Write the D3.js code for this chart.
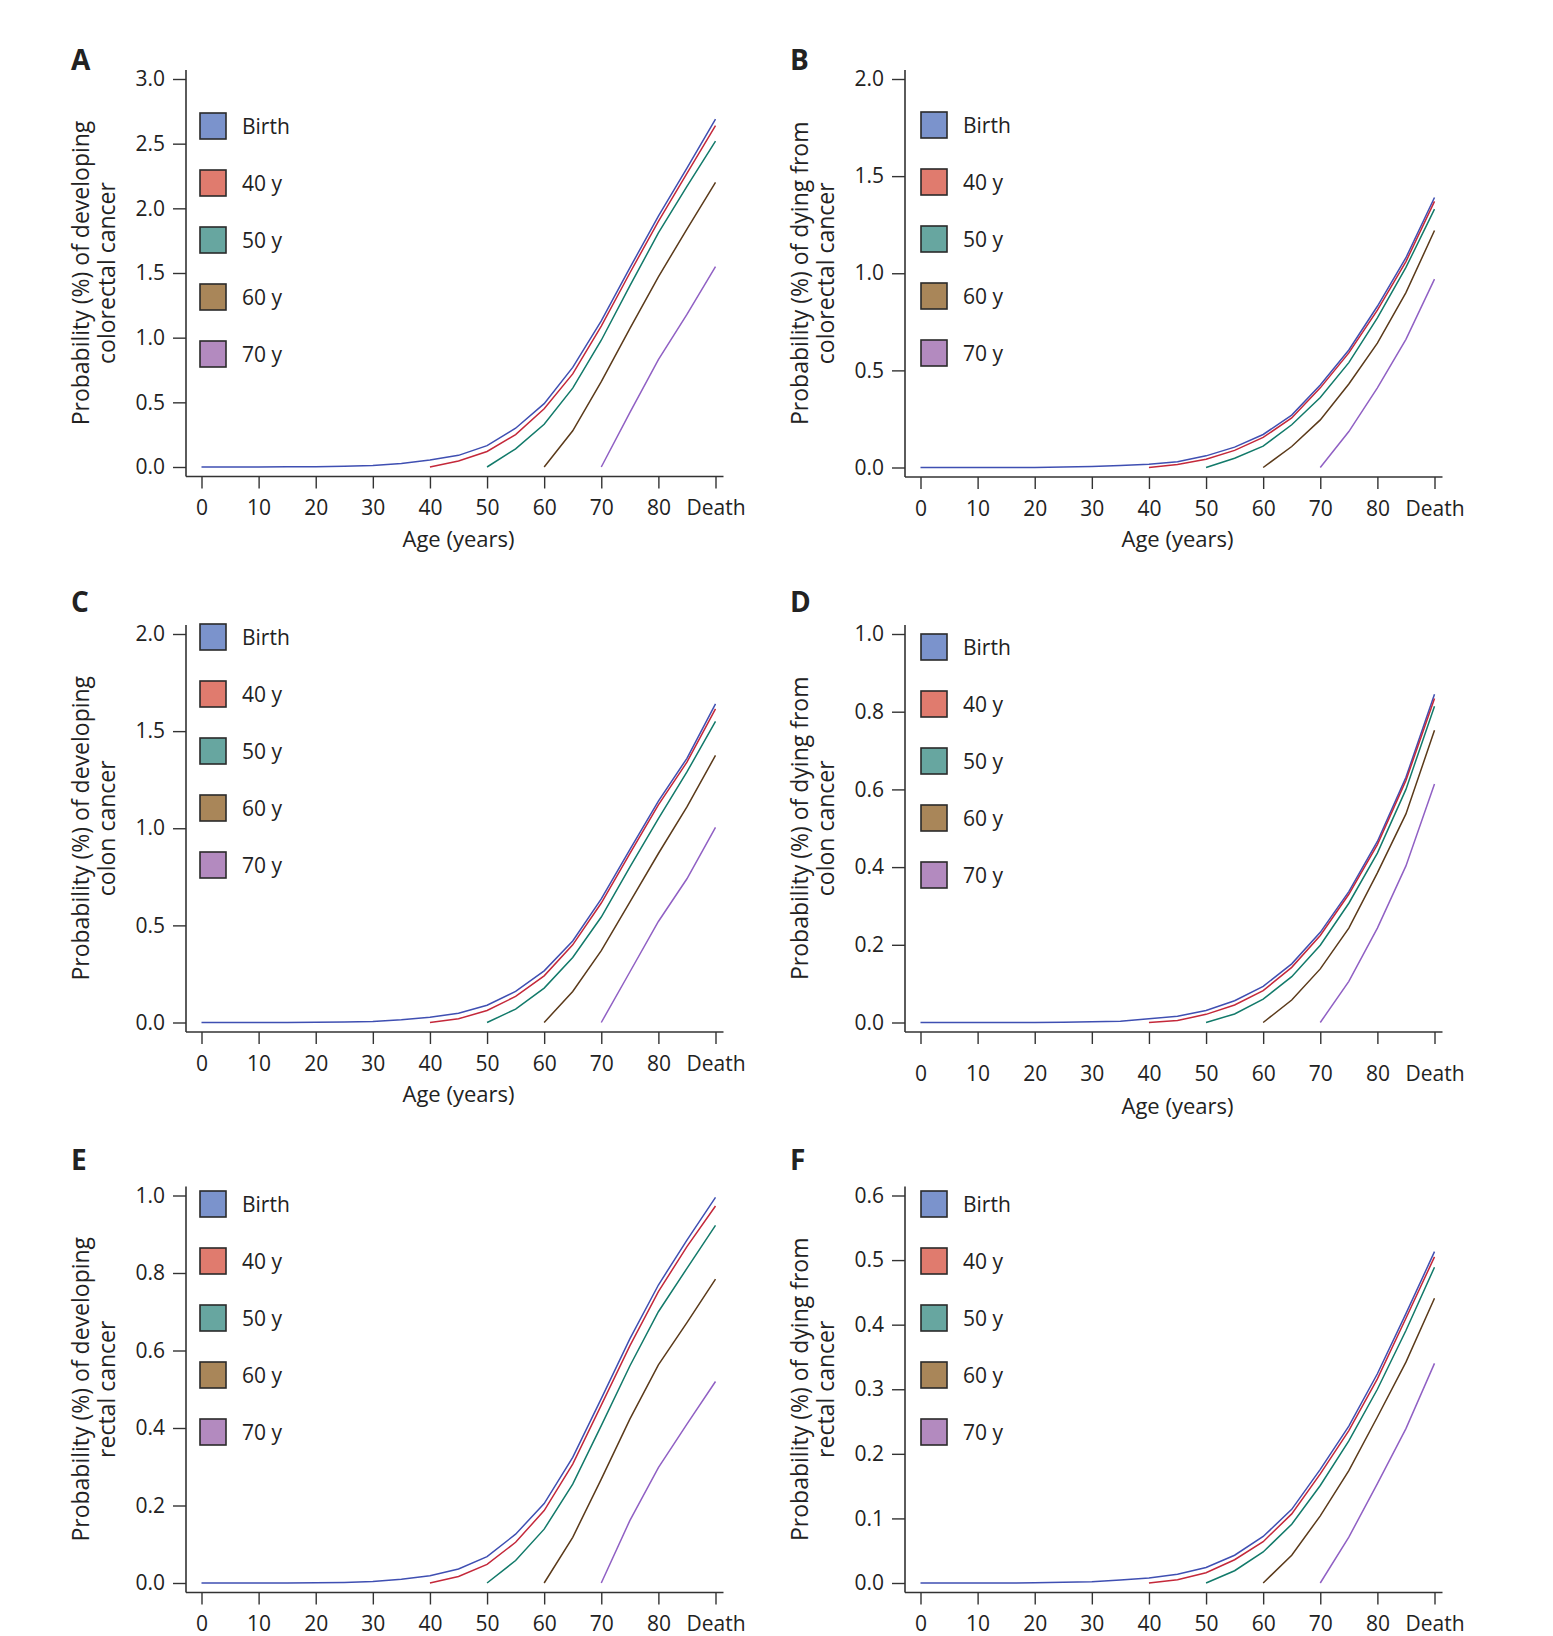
<!DOCTYPE html>
<html>
<head>
<meta charset="utf-8">
<script src="https://cdn.jsdelivr.net/npm/d3@7"></script>
<style>
  body { margin: 0; background: #fff; }
  svg { display: block; }
  text { font-family: "Open Sans", "Noto Sans", sans-serif; fill: #222; }
</style>
</head>
<body>
<div id="chart"></div>
<script>
// ages on the x axis, 90 = "Death"
const ages = [0, 5, 10, 15, 20, 25, 30, 35, 40, 45, 50, 55, 60, 65, 70, 75, 80, 85, 90];
const xTickValues = [0, 10, 20, 30, 40, 50, 60, 70, 80, 90];
const xTickLabels = ["0", "10", "20", "30", "40", "50", "60", "70", "80", "Death"];

const seriesNames = ["Birth", "40 y", "50 y", "60 y", "70 y"];
const startAges = [0, 40, 50, 60, 70];
const lineColors = ["#3f4fb2", "#c4283a", "#127a6a", "#5b3a1a", "#9060c4"];
const boxColors = ["#7b93cc", "#e07b6e", "#67a6a0", "#a98659", "#b38abf"];

// A: developing colorectal cancer
const aBirth = [0, 0, 0, 0.001, 0.002, 0.005, 0.012, 0.027, 0.054, 0.09, 0.165, 0.30, 0.49, 0.77, 1.13, 1.54, 1.94, 2.31, 2.69];
const a40 = [0, 0.046, 0.12, 0.25, 0.45, 0.72, 1.09, 1.50, 1.90, 2.27, 2.64];
const a50 = [0, 0.14, 0.33, 0.61, 0.98, 1.40, 1.81, 2.17, 2.52];
const a60 = [0, 0.28, 0.66, 1.07, 1.47, 1.84, 2.20];
const a70 = [0, 0.42, 0.83, 1.18, 1.55];

// B: dying from colorectal cancer
const bBirth = [0, 0, 0, 0, 0, 0.002, 0.005, 0.01, 0.017, 0.03, 0.06, 0.105, 0.17, 0.27, 0.425, 0.605, 0.83, 1.08, 1.39];
const b40 = [0, 0.015, 0.043, 0.088, 0.155, 0.255, 0.41, 0.59, 0.81, 1.06, 1.37];
const b50 = [0, 0.048, 0.11, 0.22, 0.36, 0.54, 0.77, 1.03, 1.33];
const b60 = [0, 0.108, 0.245, 0.43, 0.64, 0.90, 1.22];
const b70 = [0, 0.185, 0.41, 0.66, 0.97];

// C: developing colon cancer
const cBirth = [0, 0, 0, 0, 0.001, 0.002, 0.005, 0.014, 0.027, 0.048, 0.089, 0.16, 0.266, 0.42, 0.636, 0.89, 1.14, 1.36, 1.64];
const c40 = [0, 0.019, 0.062, 0.134, 0.24, 0.40, 0.615, 0.87, 1.12, 1.34, 1.615];
const c50 = [0, 0.069, 0.177, 0.335, 0.543, 0.80, 1.05, 1.29, 1.55];
const c60 = [0, 0.16, 0.37, 0.62, 0.87, 1.11, 1.375];
const c70 = [0, 0.26, 0.52, 0.74, 1.005];

// D: dying from colon cancer
const dBirth = [0, 0, 0, 0, 0, 0.0005, 0.0017, 0.0034, 0.0094, 0.016, 0.031, 0.056, 0.093, 0.151, 0.232, 0.337, 0.466, 0.631, 0.845];
const d40 = [0, 0.005, 0.021, 0.045, 0.082, 0.142, 0.224, 0.33, 0.458, 0.623, 0.834];
const d50 = [0, 0.022, 0.060, 0.118, 0.199, 0.307, 0.436, 0.60, 0.814];
const d60 = [0, 0.058, 0.138, 0.243, 0.385, 0.537, 0.752];
const d70 = [0, 0.106, 0.243, 0.403, 0.614];

// E: developing rectal cancer
const eBirth = [0, 0, 0, 0, 0.0005, 0.0015, 0.004, 0.0095, 0.019, 0.036, 0.068, 0.126, 0.205, 0.324, 0.476, 0.63, 0.769, 0.885, 0.995];
const e40 = [0, 0.017, 0.048, 0.105, 0.187, 0.307, 0.459, 0.612, 0.752, 0.868, 0.973];
const e50 = [0, 0.058, 0.139, 0.255, 0.406, 0.56, 0.70, 0.812, 0.923];
const e60 = [0, 0.118, 0.268, 0.423, 0.563, 0.672, 0.784];
const e70 = [0, 0.161, 0.298, 0.41, 0.52];

// F: dying from rectal cancer
const fBirth = [0, 0, 0, 0, 0.0003, 0.001, 0.002, 0.0046, 0.0077, 0.0134, 0.024, 0.043, 0.072, 0.114, 0.176, 0.243, 0.324, 0.417, 0.513];
const f40 = [0, 0.005, 0.016, 0.036, 0.064, 0.107, 0.169, 0.236, 0.316, 0.41, 0.505];
const f50 = [0, 0.019, 0.048, 0.091, 0.151, 0.22, 0.30, 0.391, 0.489];
const f60 = [0, 0.043, 0.104, 0.174, 0.257, 0.342, 0.441];
const f70 = [0, 0.071, 0.154, 0.239, 0.34];

const ticksAB = [0, 0.5, 1.0, 1.5, 2.0, 2.5, 3.0];
const ticks2 = [0, 0.5, 1.0, 1.5, 2.0];
const ticks1 = [0, 0.2, 0.4, 0.6, 0.8, 1.0];
const ticks06 = [0, 0.1, 0.2, 0.3, 0.4, 0.5, 0.6];

const titleDev = "Probability (%) of developing";
const titleDie = "Probability (%) of dying from";

// bottom row: the x title falls below the page, as in the original crop
const panels = [
  { letter: "A", series: [aBirth, a40, a50, a60, a70], yTicks: ticksAB, yTitle: [titleDev, "colorectal cancer"],
    ax: 186, top: 79, bottom: 467, legendX: 200, legendY: 113, letterY: 70, xLabelPad: 12, xTitleDy: 70 },
  { letter: "B", series: [bBirth, b40, b50, b60, b70], yTicks: ticks2, yTitle: [titleDie, "colorectal cancer"],
    ax: 905, top: 79, bottom: 467.5, legendX: 921, legendY: 112, letterY: 70, xLabelPad: 12, xTitleDy: 70 },
  { letter: "C", series: [cBirth, c40, c50, c60, c70], yTicks: ticks2, yTitle: [titleDev, "colon cancer"],
    ax: 186, top: 634, bottom: 1022.5, legendX: 200, legendY: 624, letterY: 612, xLabelPad: 12, xTitleDy: 70 },
  { letter: "D", series: [dBirth, d40, d50, d60, d70], yTicks: ticks1, yTitle: [titleDie, "colon cancer"],
    ax: 905, top: 634, bottom: 1022.5, legendX: 921, legendY: 634, letterY: 612, xLabelPad: 22, xTitleDy: 82 },
  { letter: "E", series: [eBirth, e40, e50, e60, e70], yTicks: ticks1, yTitle: [titleDev, "rectal cancer"],
    ax: 186, top: 1195.5, bottom: 1583, legendX: 200, legendY: 1191, letterY: 1170, xLabelPad: 12, xTitleDy: null },
  { letter: "F", series: [fBirth, f40, f50, f60, f70], yTicks: ticks06, yTitle: [titleDie, "rectal cancer"],
    ax: 905, top: 1195.5, bottom: 1583, legendX: 921, legendY: 1191, letterY: 1170, xLabelPad: 12, xTitleDy: null }
];

const width = 1553, height = 1636;
const svg = d3.select("#chart").append("svg")
  .attr("width", width)
  .attr("height", height);

panels.forEach(p => {
  const g = svg.append("g");
  const axisY = p.bottom + 9.5;
  const yMax = p.yTicks[p.yTicks.length - 1];

  const x = d3.scaleLinear().domain([0, 90]).range([p.ax + 15.5, p.ax + 529.5]);
  const y = d3.scaleLinear().domain([0, yMax]).range([p.bottom, p.top]);

  // y axis
  const yAxis = g.append("g")
    .attr("transform", `translate(${p.ax},0)`)
    .call(d3.axisLeft(y).tickValues(p.yTicks).tickFormat(d3.format(".1f")).tickSize(13).tickPadding(8));
  yAxis.select(".domain").remove();

  // x axis
  const xAxis = g.append("g")
    .attr("transform", `translate(0,${axisY})`)
    .call(d3.axisBottom(x).tickValues(xTickValues).tickFormat((d, i) => xTickLabels[i]).tickSize(12).tickPadding(p.xLabelPad));
  xAxis.select(".domain").remove();

  g.selectAll(".tick line").attr("stroke", "#333").attr("stroke-width", 1.4);
  g.selectAll(".tick text").style("font-size", "21px").attr("fill", "#222");

  // axis lines (L shape)
  g.append("line")
    .attr("x1", p.ax).attr("x2", p.ax)
    .attr("y1", p.top - 9).attr("y2", axisY)
    .attr("stroke", "#333").attr("stroke-width", 1.6);
  g.append("line")
    .attr("x1", p.ax).attr("x2", x(90) + 8)
    .attr("y1", axisY).attr("y2", axisY)
    .attr("stroke", "#333").attr("stroke-width", 1.6);

  // axis titles
  if (p.xTitleDy !== null) {
    g.append("text")
      .attr("x", (x(0) + x(90)) / 2)
      .attr("y", axisY + p.xTitleDy)
      .attr("text-anchor", "middle")
      .style("font-size", "22px")
      .text("Age (years)");
  }

  const yt = g.append("text")
    .attr("transform", `translate(${p.ax - 97},${(p.top + p.bottom) / 2}) rotate(-90)`)
    .attr("text-anchor", "middle")
    .style("font-size", "23px");
  yt.append("tspan").attr("x", 0).attr("y", 0).text(p.yTitle[0]);
  yt.append("tspan").attr("x", 0).attr("y", 26).text(p.yTitle[1]);

  // panel letter
  g.append("text")
    .attr("x", p.ax - 115)
    .attr("y", p.letterY)
    .style("font-size", "28px")
    .style("font-weight", "bold")
    .text(p.letter);

  // lines
  const line = d3.line()
    .x(d => x(d[0]))
    .y(d => y(d[1]));

  p.series.forEach((vals, i) => {
    const start = ages.indexOf(startAges[i]);
    const pts = vals.map((v, j) => [ages[start + j], v]);
    g.append("path")
      .datum(pts)
      .attr("fill", "none")
      .attr("stroke", lineColors[i])
      .attr("stroke-width", 1.5)
      .attr("d", line);
  });

  // legend
  const legend = g.append("g")
    .attr("transform", `translate(${p.legendX},${p.legendY})`);
  seriesNames.forEach((name, i) => {
    legend.append("rect")
      .attr("x", 0).attr("y", i * 57)
      .attr("width", 26).attr("height", 26)
      .attr("fill", boxColors[i])
      .attr("stroke", "#2a2a2a")
      .attr("stroke-width", 1.6);
    legend.append("text")
      .attr("x", 42).attr("y", i * 57 + 13)
      .attr("dy", "0.36em")
      .style("font-size", "21px")
      .text(name);
  });
});
</script>
</body>
</html>
